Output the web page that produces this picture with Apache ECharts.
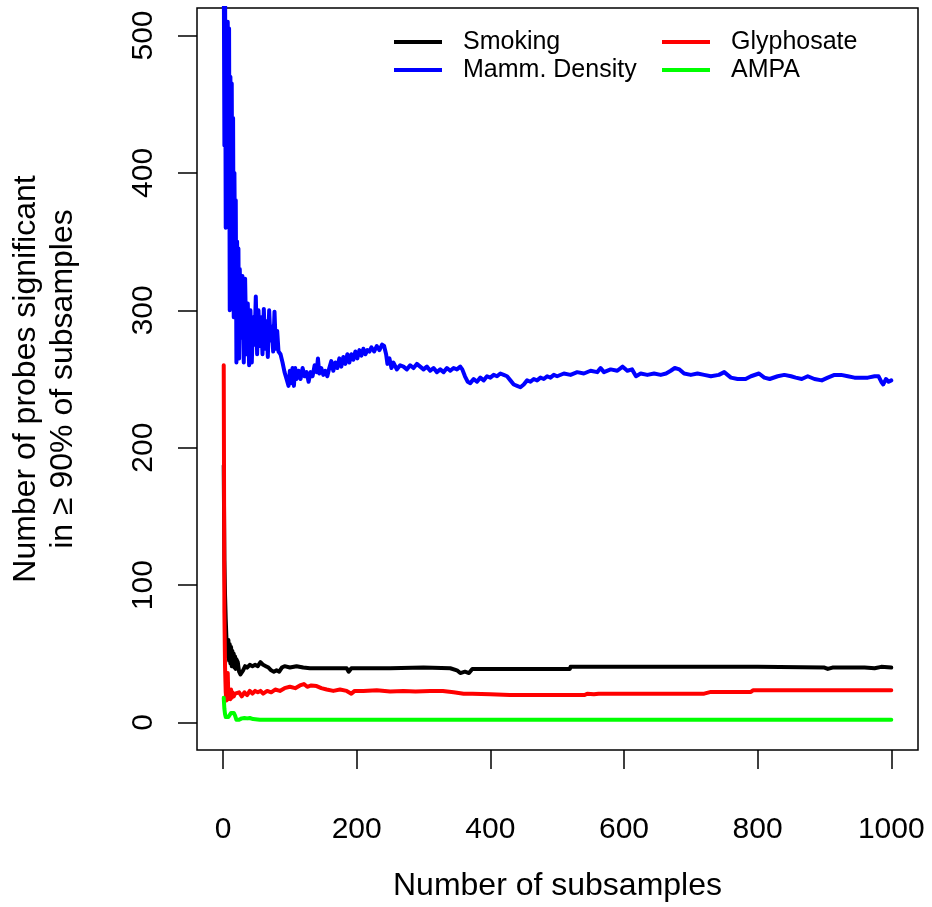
<!DOCTYPE html>
<html>
<head>
<meta charset="utf-8">
<script src="https://cdn.jsdelivr.net/npm/echarts@6/dist/echarts.min.js"></script>
<style>
html,body{margin:0;padding:0;background:#fff;}
#chart{width:932px;height:907px;}
</style>
</head>
<body>
<div id="chart"></div>
<script>
// ---- data ----
const seriesNames = ["Smoking", "Mamm. Density", "Glyphosate", "AMPA"];
const xTicks = [0, 200, 400, 600, 800, 1000];
const yTicks = [0, 100, 200, 300, 400, 500];

const smokingX = [1,2,3,4,5,6,7,8,9,10,11,12,13,14,15,16,17,18,19,20,22,24,26,28,30,33,36,40,44,48,52,56,60,64,68,72,76,80,84,88,92,100,110,120,130,150,170,185,188,192,250,300,340,350,355,362,368,373,400,450,519,520,700,800,900,905,912,960,975,985,1000];
const smokingY = [187,118,92,75,62,55,48,60,45,57,43,55,41,52,42,50,40,48,39,46,44,37,35,34,38,41,40,42,41,42,41,44,42,41,40,38,37,38,37,40,41,40,41,40,39.5,39.5,39.5,39.5,37,39.5,39.5,40,39.5,38,36,37,36,39,39,39,39,40.5,40.5,40.5,40,39,40,40,39.5,40.5,40];

const mammX = [1,2,3,4,5,6,7,8,9,10,11,12,13,14,15,16,17,18,19,20,21,22,23,24,25,27,29,31,33,35,37,39,41,43,45,47,49,51,53,55,57,59,61,63,65,67,69,71,73,75,77,79,81,83,86,89,92,95,98,100,102,104,106,108,110,113,116,119,122,125,128,131,134,137,140,142,144,147,150,153,156,159,162,165,168,171,174,177,180,183,186,189,192,195,198,201,204,207,210,213,216,219,222,226,230,234,238,241,244,246,249,252,255,260,265,270,275,280,285,290,295,300,305,310,315,320,325,330,335,340,345,350,355,358,362,366,370,375,380,385,390,395,400,405,410,415,420,425,430,435,440,445,450,455,460,465,470,475,480,485,490,495,500,510,520,530,540,550,560,565,570,580,590,598,605,612,618,625,635,645,655,663,670,676,683,690,700,710,720,730,742,750,760,770,782,790,802,810,818,830,840,850,857,866,875,885,896,905,915,925,935,945,955,965,975,981,985,988,992,996,1000];
const mammY = [560,420,540,360,480,380,510,420,505,300,470,350,465,320,440,295,400,330,380,262,350,290,345,265,330,280,325,262,323,268,305,260,300,262,295,275,310,268,300,274,295,268,301,272,292,266,300,278,288,270,299,272,285,270,268,262,255,250,245,256,247,258,245,258,250,256,250,258,252,255,248,255,252,260,255,265,254,258,253,256,252,258,263,256,262,258,265,259,266,261,268,262,268,264,270,265,271,267,272,268,271,270,273,270,274,271,275,274,268,261,265,258,262,257,260,259,257,260,258,261,259,257,259,256,258,255,257,255,258,256,258,257,259,257,252,248,247,250,248,251,249,252,251,253,252,254,253,252,249,246,245,244,246,249,248,250,249,251,250,252,251,253,252,254,253,255,254,256,255,258,255,257,256,259,256,257,252,254,253,254,253,254,256,258,257,254,253,254,253,252,253,255,251,250,250,252,254,251,250,252,253,252,251,250,252,250,249,251,253,253,252,251,251,251,252,252,248,246,250,248,249];

const glyphX = [1,2,3,4,5,6,7,8,9,10,11,12,13,14,16,18,20,24,28,32,36,40,44,48,52,56,60,66,72,78,85,92,100,108,115,121,126,132,140,147,155,165,175,185,192,197,210,230,250,270,288,310,329,345,360,373,400,429,480,530,541,545,555,562,620,720,730,790,793,820,1000];
const glyphY = [260,80,40,22,16,18,36,17,16,22,17,24,18,22,19,21,20,22,19,22,20,23,21,23,22,23,21,23,22,24,23,25,26,25,27,28,26,27,26.5,25,24,23,24,23,21,23,23,23.5,22.5,23,22.6,23,23,22,21,21,20.5,20,20,20,20,21,20.5,21,21,21,22.3,22.3,23.4,23.4,23.4];

const ampaX = [1,2,3,4,6,8,10,12,14,16,18,20,24,28,32,36,40,45,55,1000];
const ampaY = [18,10,6,4,3.8,4,5,7,6,7,5,2,2,3,3.3,3,3.3,2.5,2,2];

const colors = ["#000000", "#0000FF", "#FF0000", "#00FF00"];

function pairs(xs, ys){ return xs.map((x,i)=>[x, ys[i]]); }
const allData = [pairs(smokingX, smokingY), pairs(mammX, mammY), pairs(glyphX, glyphY), pairs(ampaX, ampaY)];

const FONT = "'Liberation Sans', Arial, sans-serif";
const chart = echarts.init(document.getElementById('chart'), null, {renderer: 'canvas'});

const legendCommon = {
  orient: 'vertical',
  icon: 'rect',
  itemWidth: 48,
  itemHeight: 4,
  itemGap: 0,
  top: 28,
  padding: 0,
  textStyle: {fontFamily: FONT, fontSize: 25, color: '#000', lineHeight: 28, padding: [0,0,0,16]}
};

chart.setOption({
  animation: false,
  backgroundColor: '#fff',
  color: colors,
  grid: {left: 197, right: 14, top: 8, bottom: 152, show: true, borderColor: '#000', borderWidth: 1.5, containLabel: false},
  legend: [
    Object.assign({}, legendCommon, {left: 394, data: [seriesNames[0], seriesNames[1]]}),
    Object.assign({}, legendCommon, {left: 662, data: [seriesNames[2], seriesNames[3]]})
  ],
  xAxis: {
    type: 'value', min: -39, max: 1040,
    name: 'Number of subsamples', nameLocation: 'middle', nameGap: 120,
    nameTextStyle: {fontFamily: FONT, fontSize: 32, color: '#000'},
    axisLine: {show: false, onZero: false},
    splitLine: {show: false},
    axisTick: {show: true, inside: false, length: 19, lineStyle: {color: '#000', width: 1.5}, customValues: xTicks},
    axisLabel: {fontFamily: FONT, fontSize: 30, color: '#000', margin: 65, customValues: xTicks, formatter: v => String(v)}
  },
  yAxis: {
    type: 'value', min: -20, max: 520,
    name: 'Number of probes significant\nin \u2265 90% of subsamples', nameLocation: 'middle', nameGap: 115,
    nameTextStyle: {fontFamily: FONT, fontSize: 32, color: '#000', lineHeight: 37},
    axisLine: {show: false, onZero: false},
    splitLine: {show: false},
    axisTick: {show: true, inside: false, length: 19, lineStyle: {color: '#000', width: 1.5}, customValues: yTicks},
    axisLabel: {fontFamily: FONT, fontSize: 30, color: '#000', margin: 38, rotate: 90, customValues: yTicks, formatter: v => String(v)}
  },
  series: seriesNames.map((n, i) => ({
    name: n, type: 'line', data: allData[i], showSymbol: false, symbol: 'none',
    clip: true,
    lineStyle: {width: 4, color: colors[i], join: 'round', cap: 'round'},
    itemStyle: {color: colors[i]}
  }))
});
</script>
</body>
</html>
